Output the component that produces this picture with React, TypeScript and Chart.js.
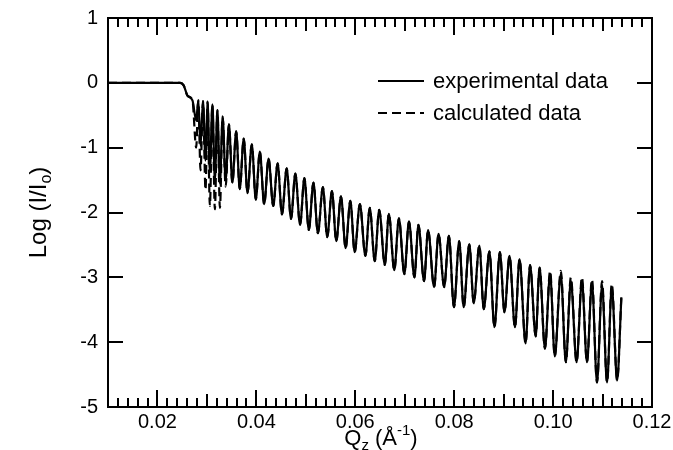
import { useEffect, useRef } from "react";
import { Chart, registerables } from "chart.js";

Chart.register(...registerables);

// ---- data ----
const qValues = [
  0.0100, 0.0200, 0.0246, 0.0253, 0.0261,
  0.02708, 0.02783, 0.02826, 0.02871, 0.02921, 0.02972, 0.03013, 0.0306, 0.03111, 0.03161,
  0.03212, 0.03263, 0.03318, 0.03379, 0.03446, 0.03515, 0.03592, 0.03664, 0.03745, 0.0382,
  0.03908, 0.03989, 0.0407, 0.04158, 0.04247,
  0.04341, 0.0443, 0.04518, 0.04613, 0.04701, 0.04788, 0.04884, 0.04971, 0.05061, 0.05154,
  0.05244, 0.05345, 0.05433, 0.05528, 0.05616, 0.05711, 0.05805, 0.059, 0.05988, 0.06093,
  0.06205, 0.06293, 0.06394, 0.06484, 0.06598, 0.06679, 0.06789, 0.06882, 0.06992, 0.07086,
  0.07196, 0.07277, 0.07391, 0.07472, 0.07594, 0.07684, 0.07797, 0.07893, 0.07995,
  0.08102, 0.08192, 0.08306, 0.08395, 0.08509, 0.08598, 0.08712, 0.08814, 0.08924, 0.09017,
  0.09119, 0.09229, 0.09322, 0.09444, 0.09534, 0.09648, 0.09727, 0.09835,
  0.0994, 0.10034, 0.10156, 0.10258, 0.10359, 0.10475, 0.10583, 0.10685, 0.10786, 0.10888,
  0.1099, 0.11091, 0.11187, 0.11295, 0.1138,
];

const logExperimental = [
  0, 0, 0, -0.04, -0.2,
  -0.27, -0.58, -0.27, -0.97, -0.28, -1.2, -0.29, -1.37, -0.33, -1.5,
  -0.42, -1.55, -0.52, -1.5, -0.64, -1.54, -0.75, -1.64, -0.86, -1.7,
  -0.95, -1.8, -1.06, -1.87, -1.17,
  -1.9, -1.24, -2.03, -1.32, -2.1, -1.4, -2.19, -1.47, -2.27, -1.54,
  -2.32, -1.61, -2.38, -1.67, -2.44, -1.75, -2.55, -1.82, -2.61, -1.87,
  -2.67, -1.93, -2.75, -1.96, -2.81, -2.02, -2.89, -2.09, -2.95, -2.14,
  -3.0, -2.19, -3.06, -2.27, -3.15, -2.33, -3.15, -2.36, -3.46,
  -2.44, -3.46, -2.49, -3.4, -2.51, -3.49, -2.6, -3.77, -2.61, -3.54,
  -2.67, -3.77, -2.72, -4.02, -2.81, -3.91, -2.85, -4.1,
  -2.95, -4.22, -2.95, -4.31, -3.06, -4.31, -3.06, -4.31, -3.09, -4.62,
  -3.12, -4.62, -3.15, -4.59, -3.32,
];

const logCalculated = [
  0, 0, 0, -0.04, -0.2,
  -0.27, -1.0, -0.27, -1.35, -0.28, -1.65, -0.29, -1.9, -0.33, -1.95,
  -0.42, -1.93, -0.52, -1.6, -0.64, -1.54, -0.75, -1.64, -0.86, -1.7,
  -0.95, -1.8, -1.06, -1.87, -1.17,
  -1.9, -1.24, -2.03, -1.32, -2.1, -1.4, -2.19, -1.47, -2.27, -1.54,
  -2.32, -1.61, -2.38, -1.67, -2.44, -1.75, -2.55, -1.82, -2.61, -1.87,
  -2.67, -1.93, -2.75, -1.96, -2.81, -2.02, -2.89, -2.09, -2.95, -2.14,
  -3.0, -2.19, -3.06, -2.27, -3.15, -2.33, -3.15, -2.36, -3.46,
  -2.44, -3.46, -2.49, -3.4, -2.51, -3.49, -2.6, -3.77, -2.61, -3.54,
  -2.67, -3.77, -2.72, -4.02, -2.81, -3.91, -2.85, -4.1,
  -2.9, -4.22, -2.9, -4.31, -3.0, -4.31, -3.0, -4.31, -3.03, -4.62,
  -3.06, -4.62, -3.1, -4.59, -3.3,
];

const seriesLabels = ["experimental data", "calculated data"];
const xTickValues = [0.02, 0.04, 0.06, 0.08, 0.1, 0.12];
const yTickValues = [1, 0, -1, -2, -3, -4, -5];
const xRange = [0.01, 0.12];
const yRange = [-5, 1];
const xMinorStep = 0.002;

const FONT = "'Liberation Sans', Arial, Helvetica, sans-serif";

type Part = { t: string; size: number; dy: number };

function drawParts(ctx: CanvasRenderingContext2D, parts: Part[], cx: number, cy: number) {
  let total = 0;
  for (const p of parts) {
    ctx.font = `${p.size}px ${FONT}`;
    total += ctx.measureText(p.t).width;
  }
  let x = cx - total / 2;
  for (const p of parts) {
    ctx.font = `${p.size}px ${FONT}`;
    ctx.fillText(p.t, x, cy + p.dy);
    x += ctx.measureText(p.t).width;
  }
}

const decorPlugin = {
  id: "decor",
  afterDatasetsDraw(chart: any) {
    const { ctx, chartArea: a, scales } = chart;
    const xs = scales.x;
    const ys = scales.y;
    ctx.save();
    ctx.strokeStyle = "#000";
    ctx.fillStyle = "#000";
    ctx.lineWidth = 2;
    ctx.strokeRect(a.left, a.top, a.right - a.left, a.bottom - a.top);

    // x ticks (top & bottom, inward)
    const n = Math.round((xRange[1] - xRange[0]) / xMinorStep);
    ctx.beginPath();
    for (let i = 0; i <= n; i++) {
      const v = xRange[0] + i * xMinorStep;
      const k = Math.round(v * 1000);
      let len = 9;
      if (k % 20 === 0) len = 17;
      else if (k % 10 === 0) len = 13;
      const px = Math.round(xs.getPixelForValue(v));
      ctx.moveTo(px, a.bottom);
      ctx.lineTo(px, a.bottom - len);
      ctx.moveTo(px, a.top);
      ctx.lineTo(px, a.top + len);
    }
    // y ticks (left & right, inward)
    for (const v of yTickValues) {
      const py = Math.round(ys.getPixelForValue(v));
      ctx.moveTo(a.left, py);
      ctx.lineTo(a.left + 15, py);
      ctx.moveTo(a.right, py);
      ctx.lineTo(a.right - 15, py);
    }
    ctx.stroke();

    // legend
    const ds = chart.data.datasets;
    ctx.textBaseline = "middle";
    ctx.textAlign = "left";
    for (let i = 0; i < ds.length; i++) {
      const y = a.top + 63 + i * 32;
      const x0 = a.left + 270;
      ctx.beginPath();
      ctx.lineWidth = 2;
      ctx.setLineDash(ds[i].borderDash || []);
      ctx.moveTo(x0, y);
      ctx.lineTo(x0 + 46, y);
      ctx.stroke();
      ctx.setLineDash([]);
      ctx.font = `22px ${FONT}`;
      ctx.fillText(ds[i].label, x0 + 55, y + 1);
    }

    // axis titles
    ctx.textBaseline = "alphabetic";
    ctx.textAlign = "left";
    drawParts(
      ctx,
      [
        { t: "Q", size: 22, dy: 0 },
        { t: "z", size: 15, dy: 5 },
        { t: " (Å", size: 22, dy: 0 },
        { t: "-1", size: 15, dy: -10 },
        { t: ")", size: 22, dy: 0 },
      ],
      (a.left + a.right) / 2 + 1,
      445
    );
    ctx.save();
    ctx.translate(38, (a.top + a.bottom) / 2);
    ctx.rotate(-Math.PI / 2);
    drawParts(
      ctx,
      [
        { t: "Log (I/I", size: 24, dy: 0 },
        { t: "o", size: 16, dy: 5 },
        { t: ")", size: 24, dy: 0 },
      ],
      0,
      8
    );
    ctx.restore();
    ctx.restore();
  },
};

export default function App() {
  const ref = useRef<HTMLCanvasElement | null>(null);
  useEffect(() => {
    if (!ref.current) return;
    const mk = (arr: number[]) => qValues.map((q, i) => ({ x: q, y: arr[i] }));
    const chart = new Chart(ref.current, {
      type: "line",
      data: {
        datasets: [
          {
            label: seriesLabels[0],
            data: mk(logExperimental),
            borderColor: "#000",
            borderWidth: 2.2,
            pointRadius: 0,
            cubicInterpolationMode: "monotone",
            fill: false,
          },
          {
            label: seriesLabels[1],
            data: mk(logCalculated),
            borderColor: "#000",
            borderWidth: 2.2,
            borderDash: [9, 5],
            pointRadius: 0,
            cubicInterpolationMode: "monotone",
            fill: false,
          },
        ],
      },
      options: {
        animation: false,
        responsive: false,
        devicePixelRatio: 1,
        layout: { padding: { top: 18, right: 21, left: 0, bottom: 0 } },
        plugins: { legend: { display: false }, tooltip: { enabled: false } },
        scales: {
          x: {
            type: "linear",
            min: xRange[0],
            max: xRange[1],
            grid: { display: false, drawTicks: false },
            border: { display: false },
            afterBuildTicks: (s: any) => {
              s.ticks = xTickValues.map((v) => ({ value: v }));
            },
            afterFit: (s: any) => {
              s.height = 43;
              s.paddingLeft = 0;
              s.paddingRight = 0;
            },
            ticks: {
              padding: 3,
              color: "#000",
              maxRotation: 0,
              autoSkip: false,
              font: { family: FONT, size: 20 },
              callback: (v: any) => Number(v).toFixed(2),
            },
          },
          y: {
            type: "linear",
            min: yRange[0],
            max: yRange[1],
            grid: { display: false, drawTicks: false },
            border: { display: false },
            afterBuildTicks: (s: any) => {
              s.ticks = yTickValues.map((v) => ({ value: v }));
            },
            afterFit: (s: any) => {
              s.width = 108;
              s.paddingTop = 0;
              s.paddingBottom = 0;
            },
            ticks: {
              padding: 10,
              color: "#000",
              autoSkip: false,
              font: { family: FONT, size: 20 },
              callback: (v: any) => String(v),
            },
          },
        },
      },
      plugins: [decorPlugin],
    });
    return () => chart.destroy();
  }, []);
  return (
    <div style={{ position: "fixed", left: 0, top: 0, width: 673, height: 450, background: "#fff" }}>
      <canvas ref={ref} width={673} height={450} />
    </div>
  );
}
